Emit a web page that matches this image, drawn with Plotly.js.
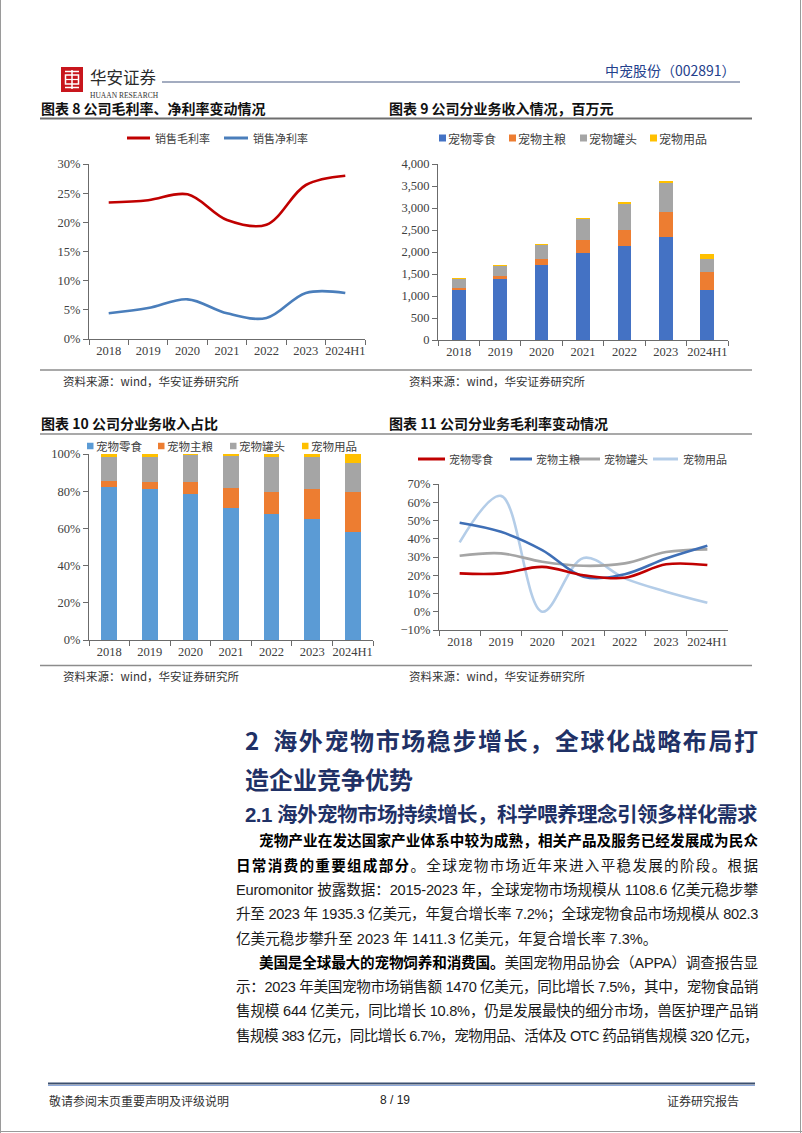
<!DOCTYPE html>
<html>
<head>
<meta charset="utf-8">
<script src="https://cdn.plot.ly/plotly-3.0.1.min.js"></script>
<style>
html,body{margin:0;padding:0;background:#fff;}
#page{position:relative;width:802px;height:1133px;overflow:hidden;background:#fff;}
#plot{position:absolute;left:0;top:0;width:802px;height:1133px;}
.ln{position:absolute;white-space:nowrap;font-family:"Liberation Sans","Noto Sans CJK SC",sans-serif;color:#1a1a1a;font-size:14.6px;line-height:24px;height:24px;}
.j{text-align:justify;text-align-last:justify;}
.h1{font-family:"Noto Sans CJK SC",sans-serif;font-weight:700;font-size:24px;line-height:30px;height:30px;color:#1f3166;}
.h2{font-family:"Liberation Sans","Noto Sans CJK SC",sans-serif;font-weight:700;font-size:20.5px;line-height:26px;height:26px;color:#1f3166;}
b{font-weight:700;color:#000;}
</style>
</head>
<body>
<div id="page">
  <div id="plot"></div>
  <div class="ln j h1" style="left:245px;top:725px;width:513px;">2&nbsp;&nbsp;海外宠物市场稳步增长，全球化战略布局打</div>
  <div class="ln h1" style="left:245px;top:764px;">造企业竞争优势</div>
  <div class="ln j h2" style="left:245px;top:802px;width:512px;">2.1 海外宠物市场持续增长，科学喂养理念引领多样化需求</div>
  <div class="ln j" style="left:259px;top:829px;width:499px;"><b>宠物产业在发达国家产业体系中较为成熟，相关产品及服务已经发展成为民众</b></div>
  <div class="ln j" style="left:236px;top:854px;width:522px;"><b>日常消费的重要组成部分</b>。全球宠物市场近年来进入平稳发展的阶段。根据</div>
  <div class="ln j" style="left:236px;top:878px;width:522px;">Euromonitor 披露数据：2015-2023 年，全球宠物市场规模从 1108.6 亿美元稳步攀</div>
  <div class="ln j" style="left:236px;top:902px;width:522px;">升至 2023 年 1935.3 亿美元，年复合增长率 7.2%；全球宠物食品市场规模从 802.3</div>
  <div class="ln" style="left:236px;top:927px;">亿美元稳步攀升至 2023 年 1411.3 亿美元，年复合增长率 7.3%。</div>
  <div class="ln j" style="left:259px;top:951px;width:499px;"><b>美国是全球最大的宠物饲养和消费国。</b>美国宠物用品协会（APPA）调查报告显</div>
  <div class="ln j" style="left:236px;top:975px;width:522px;">示：2023 年美国宠物市场销售额 1470 亿美元，同比增长 7.5%，其中，宠物食品销</div>
  <div class="ln j" style="left:236px;top:999px;width:522px;">售规模 644 亿美元，同比增长 10.8%，仍是发展最快的细分市场，兽医护理产品销</div>
  <div class="ln j" style="left:236px;top:1024px;width:522px;">售规模 383 亿元，同比增长 6.7%，宠物用品、活体及 OTC 药品销售规模 320 亿元，</div>
</div>
<script>
// ---------------- data ----------------
const years = ['2018', '2019', '2020', '2021', '2022', '2023', '2024H1'];
const marginNames = ['销售毛利率', '销售净利率'];
const grossMargin = [23.4, 23.8, 24.8, 20.4, 19.6, 26.4, 28.0];
const netMargin = [4.4, 5.3, 6.8, 4.4, 3.6, 7.9, 7.9];

const segmentNames = ['宠物零食', '宠物主粮', '宠物罐头', '宠物用品'];
const revSnack = [1140, 1380, 1705, 1970, 2130, 2350, 1135];
const revStaple = [50, 75, 135, 300, 365, 570, 420];
const revCan = [190, 235, 320, 480, 600, 640, 295];
const revSupplies = [20, 20, 20, 30, 50, 45, 105];

const shareSnack = [82.0, 81.3, 78.5, 71.1, 67.9, 64.8, 58.0];
const shareStaple = [3.3, 3.6, 6.6, 10.8, 11.5, 16.3, 21.5];
const shareCan = [13.3, 13.7, 14.4, 16.8, 19.0, 17.1, 15.5];
const shareSupplies = [1.4, 1.4, 0.5, 1.3, 1.6, 1.8, 5.0];

const gmSnack = [21.0, 21.0, 24.6, 20.0, 18.6, 26.0, 25.6];
const gmStaple = [48.8, 43.8, 33.8, 19.2, 20.6, 29.2, 36.2];
const gmCan = [30.7, 32.0, 27.4, 25.2, 26.5, 32.7, 34.2];
const gmSupplies = [38.0, 63.5, 0.0, 29.5, 18.3, 11.0, 4.9];

// ---------------- helpers ----------------
const W = 802, H = 1133;
const X = p => p / W, Y = p => 1 - p / H;
const CJK = '"Noto Sans CJK SC", sans-serif';
const SERIF = '"Liberation Serif", "Times New Roman", serif';
const SANS = '"Liberation Sans", "Noto Sans CJK SC", sans-serif';
const shapes = [], annotations = [];

function hline(x0, x1, y, color, width) {
  shapes.push({type: 'line', xref: 'paper', yref: 'paper', x0: X(x0), x1: X(x1), y0: Y(y), y1: Y(y), line: {color: color, width: width}});
}
function vline(x, y0, y1, color, width) {
  shapes.push({type: 'line', xref: 'paper', yref: 'paper', x0: X(x), x1: X(x), y0: Y(y0), y1: Y(y1), line: {color: color, width: width}});
}
function rect(x0, y0, x1, y1, color) {
  shapes.push({type: 'rect', xref: 'paper', yref: 'paper', x0: X(x0), x1: X(x1), y0: Y(y1), y1: Y(y0), fillcolor: color, line: {width: 0}});
}
function txt(x, y, t, size, color, family, anchor) {
  annotations.push({xref: 'paper', yref: 'paper', x: X(x), y: Y(y), text: t, showarrow: false,
    xanchor: anchor || 'left', yanchor: 'middle', borderpad: 0,
    font: {family: family || CJK, size: size, color: color}});
}
function legLine(x0, x1, y, color, label, tx, size) {
  hline(x0, x1, y, color, 3);
  txt(tx, y, label, size, '#404040');
}
function legSq(x0, y, s, color, label, tx, size) {
  rect(x0, y - s / 2, x0 + s, y + s / 2, color);
  txt(tx, y, label, size, '#404040');
}

// ---------------- page frame / header / footer ----------------
vline(0.5, 0, 1133, '#9a9a9a', 1);
vline(800.5, 0, 1133, '#9a9a9a', 1);
hline(0, 802, 1131.5, '#9a9a9a', 1);

// logo
rect(61, 67, 83, 92, '#c8161d');
hline(65, 79, 71.5, '#ffffff', 1.5);
hline(65, 79, 87.5, '#ffffff', 1.5);
shapes.push({type: 'rect', xref: 'paper', yref: 'paper', x0: X(65.5), x1: X(78.5), y0: Y(84), y1: Y(75), line: {color: '#ffffff', width: 1.5}});
vline(72, 70, 89, '#ffffff', 1.5);
hline(65.5, 78.5, 79.5, '#ffffff', 1.2);
txt(89, 77, '华安证券', 16.5, '#2a2a2a', CJK);
txt(89, 96, 'HUAAN RESEARCH', 7.5, '#333333', SERIF);
hline(162, 740, 82, '#a3acc0', 2);
txt(737, 70, '中宠股份（002891）', 14, '#23408c', CJK, 'right');

// chart titles & separators
txt(40, 108, '<b>图表 8 公司毛利率、净利率变动情况</b>', 14, '#111111');
txt(388, 108, '<b>图表 9 公司分业务收入情况，百万元</b>', 14, '#111111');
hline(40, 752, 118.5, '#6e6e6e', 2.2);
hline(40, 752, 370, '#8c8c8c', 1.5);
txt(62, 381, '资料来源：wind，华安证券研究所', 11.5, '#333333');
txt(408, 381, '资料来源：wind，华安证券研究所', 11.5, '#333333');

txt(40, 423, '<b>图表 10 公司分业务收入占比</b>', 14, '#111111');
txt(388, 423, '<b>图表 11 公司分业务毛利率变动情况</b>', 14, '#111111');
hline(40, 752, 434, '#8c8c8c', 1.5);
hline(40, 752, 665.5, '#8c8c8c', 1.5);
txt(62, 676, '资料来源：wind，华安证券研究所', 11.5, '#333333');
txt(408, 676, '资料来源：wind，华安证券研究所', 11.5, '#333333');

// footer
hline(48, 755, 1083.5, '#3b4f6e', 2.2);
hline(48, 755, 1085.5, '#8ea9db', 1);
txt(48, 1100, '敬请参阅末页重要声明及评级说明', 12, '#333333');
txt(395, 1100, '8 / 19', 12, '#222222', SANS, 'center');
txt(740, 1100, '证券研究报告', 12, '#333333', CJK, 'right');

// ---------------- colours ----------------
const cRed = '#c00000', cBlue8 = '#4a7ebb';
const c9 = ['#4472c4', '#ed7d31', '#a5a5a5', '#ffc000'];
const c10 = ['#5b9bd5', '#ed7d31', '#a5a5a5', '#ffc000'];
const c11 = ['#c00000', '#3f6fb6', '#a5a5a5', '#b4cde8'];

// ---------------- manual legends ----------------
legLine(127, 150, 138, cRed, marginNames[0], 154, 11);
legLine(224, 248, 138, cBlue8, marginNames[1], 252, 11);

[439, 509, 580, 650].forEach((x, i) => legSq(x, 138, 7, c9[i], segmentNames[i], x + 8, 12));
[87, 158, 230, 302].forEach((x, i) => legSq(x, 446, 6.5, c10[i], segmentNames[i], x + 8, 11.5));
[[418, 445, 448], [510, 532, 535], [575, 600, 603], [653, 678, 682]].forEach((p, i) =>
  legLine(p[0], p[1], 459, c11[i], segmentNames[i], p[2], 11));

// ---------------- traces ----------------
const traces = [];
function lineTrace(y, color, name, xa, ya) {
  return {type: 'scatter', mode: 'lines', x: years, y: y, name: name, xaxis: xa, yaxis: ya,
    line: {color: color, width: 2.6, shape: 'spline', smoothing: 1}, hoverinfo: 'skip'};
}
traces.push(lineTrace(grossMargin, cRed, marginNames[0], 'x', 'y'));
traces.push(lineTrace(netMargin, cBlue8, marginNames[1], 'x', 'y'));

[revSnack, revStaple, revCan, revSupplies].forEach((v, i) =>
  traces.push({type: 'bar', x: years, y: v, name: segmentNames[i], xaxis: 'x2', yaxis: 'y2',
    width: 0.33, marker: {color: c9[i], line: {width: 0}}, hoverinfo: 'skip'}));

[shareSnack, shareStaple, shareCan, shareSupplies].forEach((v, i) =>
  traces.push({type: 'bar', x: years, y: v, name: segmentNames[i], xaxis: 'x3', yaxis: 'y3',
    width: 0.39, marker: {color: c10[i], line: {width: 0}}, hoverinfo: 'skip'}));

[gmSnack, gmStaple, gmCan, gmSupplies].forEach((v, i) =>
  traces.push(lineTrace(v, c11[i], segmentNames[i], 'x4', 'y4')));
const order = traces.slice(0, 10).concat([traces[13], traces[12], traces[11], traces[10]]);

// ---------------- axes ----------------
const axColor = '#6b6b6b';
const tickFont = {family: SERIF, size: 12.5, color: '#404040'};
function catAxis(x0, x1, anchor) {
  return {domain: [X(x0), X(x1)], anchor: anchor, type: 'category', range: [-0.5, 6.5],
    showline: true, linecolor: axColor, linewidth: 1, ticks: 'outside', tickson: 'boundaries',
    ticklen: 5, tickcolor: axColor, tickwidth: 1, tickfont: tickFont, tickangle: 0,
    showgrid: false, zeroline: false, fixedrange: true};
}
function valAxis(top, bottom, anchor, range, dtick, suffix, fmt) {
  return {domain: [Y(bottom), Y(top)], anchor: anchor, range: range, dtick: dtick, tick0: range[0],
    ticksuffix: suffix, tickformat: fmt, showline: true, linecolor: axColor, linewidth: 1,
    ticks: 'outside', ticklen: 5, tickcolor: axColor, tickwidth: 1, tickfont: tickFont,
    showgrid: false, zeroline: false, fixedrange: true, separatethousands: true};
}

const layout = {
  width: W, height: H, margin: {l: 0, r: 0, t: 0, b: 0},
  paper_bgcolor: 'rgba(0,0,0,0)', plot_bgcolor: 'rgba(0,0,0,0)',
  showlegend: false, barmode: 'stack',
  xaxis: catAxis(89, 365, 'y'),
  yaxis: valAxis(164, 339, 'x', [0, 30], 5, '%', ''),
  xaxis2: catAxis(438, 728, 'y2'),
  yaxis2: valAxis(164, 340, 'x2', [0, 4000], 500, '', ',d'),
  xaxis3: catAxis(89, 373, 'y3'),
  yaxis3: valAxis(454, 640, 'x3', [0, 100], 20, '%', ''),
  xaxis4: catAxis(439, 728, 'y4'),
  yaxis4: valAxis(484, 630, 'x4', [-10, 70], 10, '%', ''),
  shapes: shapes, annotations: annotations
};

Plotly.newPlot('plot', order, layout, {staticPlot: true, displayModeBar: false});

// compress justified lines that would overflow their box
document.querySelectorAll('.j').forEach(el => {
  const target = el.clientWidth;
  const probe = el.cloneNode(true);
  probe.style.width = 'auto';
  probe.style.textAlignLast = 'auto';
  probe.style.visibility = 'hidden';
  el.parentNode.appendChild(probe);
  const w = probe.getBoundingClientRect().width;
  probe.remove();
  if (w > target) {
    const n = el.textContent.length;
    el.style.letterSpacing = ((target - w) / n - 0.05) + 'px';
  }
});
</script>
</body>
</html>
